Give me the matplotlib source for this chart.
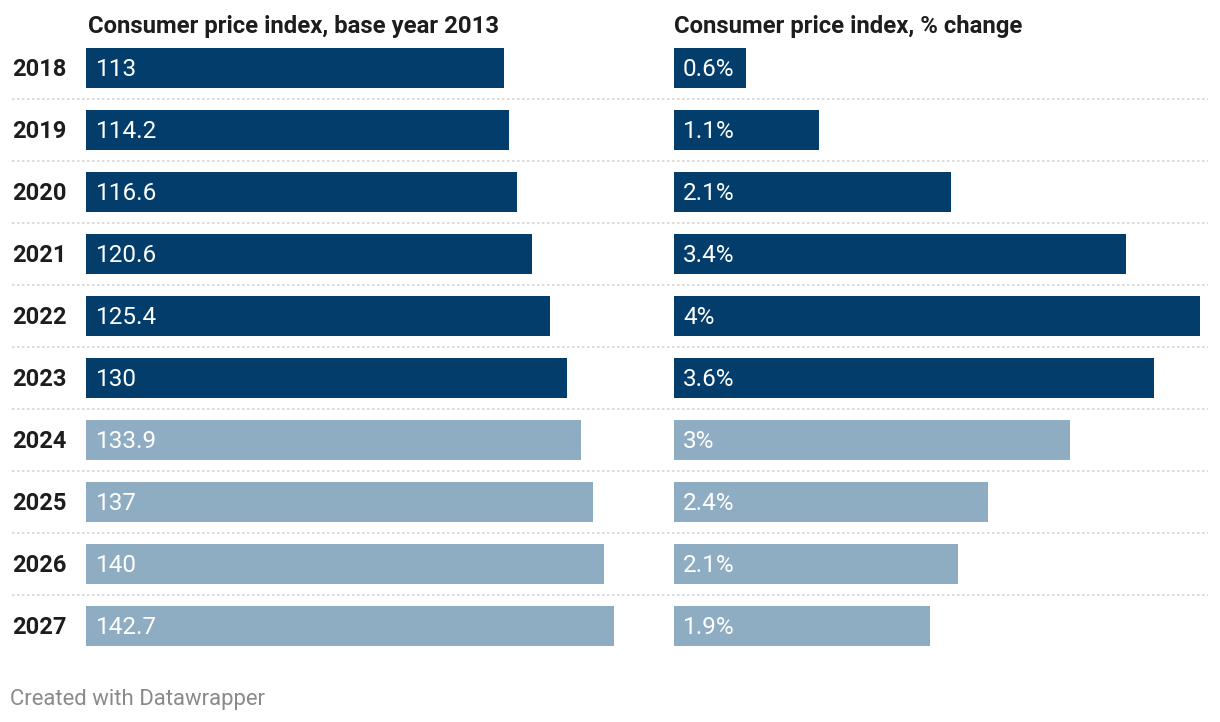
import matplotlib
matplotlib.use("Agg")
import matplotlib.pyplot as plt

plt.rcParams['font.family'] = ['Roboto', 'DejaVu Sans']

years = ["2018", "2019", "2020", "2021", "2022", "2023", "2024", "2025", "2026", "2027"]
cpi_index = [113, 114.2, 116.6, 120.6, 125.4, 130, 133.9, 137, 140, 142.7]
cpi_index_labels = ["113", "114.2", "116.6", "120.6", "125.4", "130", "133.9", "137", "140", "142.7"]
cpi_change = [0.55, 1.1, 2.11, 3.44, 4.0, 3.65, 3.01, 2.39, 2.16, 1.95]
cpi_change_labels = ["0.6%", "1.1%", "2.1%", "3.4%", "4%", "3.6%", "3%", "2.4%", "2.1%", "1.9%"]
is_forecast = [False] * 6 + [True] * 4

title_left = "Consumer price index, base year 2013"
title_right = "Consumer price index, % change"
footer = "Created with Datawrapper"

DARK = "#023d6b"
LIGHT = "#8fadc2"

W, H = 1220, 722
fig = plt.figure(figsize=(W / 100, H / 100), dpi=100)

def px_axes(x0, x1, y0, y1):
    return fig.add_axes([x0 / W, 1 - y1 / H, (x1 - x0) / W, (y1 - y0) / H])

n = len(years)
top_px, row_px = 37, 62
bot_px = top_px + row_px * n

# background axes for separators and year labels
bg = px_axes(0, W, top_px, bot_px)
bg.set_xlim(0, W)
bg.set_ylim(n - 0.5, -0.5)
bg.axis("off")
for i in range(n - 1):
    bg.plot([12, 1208], [i + 0.5, i + 0.5], color="#d6d6d6", lw=1.2,
            linestyle=(0, (1.5, 1.5)), solid_capstyle="butt")
for i, y in enumerate(years):
    bg.annotate(y, (12, i), xytext=(0, -1), textcoords="offset pixels",
                ha="left", va="center", fontsize=17, fontweight="bold", color="#1d1d1d")

colors = [LIGHT if f else DARK for f in is_forecast]
bar_h = 40 / row_px

axL = px_axes(86, 614, top_px, bot_px)
axL.barh(range(n), cpi_index, height=bar_h, color=colors)
axL.set_xlim(0, max(cpi_index))
axL.set_ylim(n - 0.5, -0.5)
axL.axis("off")
for i, lab in enumerate(cpi_index_labels):
    axL.annotate(lab, (0, i), xytext=(10, -1), textcoords="offset pixels",
                 ha="left", va="center", fontsize=17.5, color="white")

axR = px_axes(674, 1200, top_px, bot_px)
axR.barh(range(n), cpi_change, height=bar_h, color=colors)
axR.set_xlim(0, max(cpi_change))
axR.set_ylim(n - 0.5, -0.5)
axR.axis("off")
for i, lab in enumerate(cpi_change_labels):
    axR.annotate(lab, (0, i), xytext=(9, -1), textcoords="offset pixels",
                 ha="left", va="center", fontsize=17.5, color="white")

fig.text(88 / W, 1 - 26.5 / H, title_left, ha="left", va="center", fontsize=17.2,
         fontweight="bold", color="#1d1d1d")
fig.text(674 / W, 1 - 26.5 / H, title_right, ha="left", va="center", fontsize=17.2,
         fontweight="bold", color="#1d1d1d")
fig.text(10 / W, 1 - 700 / H, footer, ha="left", va="center", fontsize=15.9, color="#8a8a8a")

fig.savefig("out.png", dpi=100)
